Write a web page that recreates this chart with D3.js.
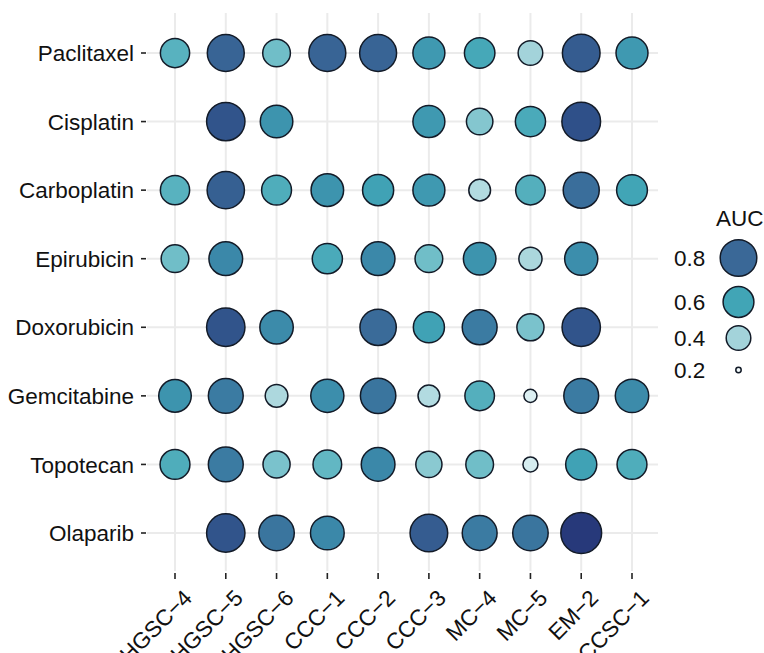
<!DOCTYPE html>
<html>
<head>
<meta charset="utf-8">
<script src="https://cdn.jsdelivr.net/npm/d3@7"></script>
<style>
  html, body { margin: 0; padding: 0; background: #ffffff; }
  svg { display: block; font-family: "Liberation Sans", Arial, sans-serif; }
</style>
</head>
<body>
<svg id="chart" width="764" height="653"></svg>
<script>
// ---------- DATA ----------
const cellLines = ["HGSC\u22124", "HGSC\u22125", "HGSC\u22126", "CCC\u22121", "CCC\u22122", "CCC\u22123", "MC\u22124", "MC\u22125", "EM\u22122", "CCSC\u22121"];
const drugs = ["Paclitaxel", "Cisplatin", "Carboplatin", "Epirubicin", "Doxorubicin", "Gemcitabine", "Topotecan", "Olaparib"];

// AUC per drug, in cellLines order (null = not tested)
const paclitaxel  = [0.55, 0.81, 0.50, 0.81, 0.81, 0.64, 0.59, 0.40, 0.83, 0.64];
const cisplatin   = [null, 0.85, 0.66, null, null, 0.64, 0.46, 0.58, 0.86, null];
const carboplatin = [0.55, 0.82, 0.57, 0.66, 0.61, 0.64, 0.37, 0.56, 0.78, 0.60];
const epirubicin  = [0.50, 0.70, null, 0.58, 0.70, 0.50, 0.66, 0.385, 0.68, null];
const doxorubicin = [null, 0.85, 0.69, null, 0.79, 0.61, 0.74, 0.48, 0.85, null];
const gemcitabine = [0.66, 0.74, 0.38, 0.68, 0.76, 0.37, 0.56, 0.28, 0.74, 0.69];
const topotecan   = [0.57, 0.74, 0.48, 0.53, 0.70, 0.45, 0.50, 0.30, 0.61, 0.57];
const olaparib    = [null, 0.85, 0.76, 0.70, null, 0.83, 0.74, 0.76, 0.92, null];

const legendBreaks = [0.8, 0.6, 0.4, 0.2];
const legendTitle = "AUC";

// ---------- BUILD TABLE ----------
const rowsByDrug = [paclitaxel, cisplatin, carboplatin, epirubicin, doxorubicin, gemcitabine, topotecan, olaparib];
const table = [];
drugs.forEach((drug, i) => {
  rowsByDrug[i].forEach((v, j) => {
    if (v != null) table.push({ drug, line: cellLines[j], auc: v });
  });
});

// ---------- SCALES ----------
const svg = d3.select("#chart");
const panel = { left: 147, right: 658, top: 13, bottom: 571 };
const fontSize = 22.5;

const x = d3.scalePoint().domain(cellLines).range([175, 632]);
const y = d3.scalePoint().domain(drugs).range([53, 533]);

const r = d3.scaleLinear()
  .domain([0.2, 0.4, 0.6, 0.8, 0.92])
  .range([2.7, 12.3, 15.4, 18.3, 20.4])
  .clamp(true);

const color = d3.scaleLinear()
  .domain([0.2, 0.3, 0.4, 0.5, 0.6, 0.7, 0.8, 0.86, 0.92])
  .range(["#f2f9fa", "#d6edf0", "#a3d3da", "#70bec8", "#41a5b6", "#3b88a9", "#3a6897", "#2f5089", "#27397a"])
  .clamp(true);

// ---------- GRID ----------
const grid = svg.append("g");
grid.selectAll("line.v").data(cellLines).join("line")
  .attr("x1", d => x(d)).attr("x2", d => x(d))
  .attr("y1", panel.top).attr("y2", panel.bottom)
  .attr("stroke", "#ebebeb").attr("stroke-width", 2);
grid.selectAll("line.h").data(drugs).join("line")
  .attr("x1", panel.left).attr("x2", panel.right)
  .attr("y1", d => y(d)).attr("y2", d => y(d))
  .attr("stroke", "#ebebeb").attr("stroke-width", 2);

// ---------- AXES ----------
const yAxis = svg.append("g");
yAxis.selectAll("line").data(drugs).join("line")
  .attr("x1", 141).attr("x2", 146)
  .attr("y1", d => y(d)).attr("y2", d => y(d))
  .attr("stroke", "#222").attr("stroke-width", 1.6);
yAxis.selectAll("text").data(drugs).join("text")
  .attr("x", 134).attr("y", d => y(d))
  .attr("dy", "0.36em")
  .attr("text-anchor", "end")
  .attr("font-size", fontSize)
  .attr("fill", "#111")
  .text(d => d);

const xAxis = svg.append("g");
xAxis.selectAll("line").data(cellLines).join("line")
  .attr("x1", d => x(d)).attr("x2", d => x(d))
  .attr("y1", 573).attr("y2", 579)
  .attr("stroke", "#222").attr("stroke-width", 1.6);
xAxis.selectAll("text").data(cellLines).join("text")
  .attr("transform", d => `translate(${x(d) + 7},${588}) rotate(-45)`)
  .attr("dy", "0.72em")
  .attr("text-anchor", "end")
  .attr("font-size", fontSize)
  .attr("fill", "#111")
  .text(d => d);

// ---------- BUBBLES ----------
svg.append("g").selectAll("circle").data(table).join("circle")
  .attr("cx", d => x(d.line))
  .attr("cy", d => y(d.drug))
  .attr("r", d => r(d.auc))
  .attr("fill", d => color(d.auc))
  .attr("stroke", "#131b28")
  .attr("stroke-width", 1.5);

// ---------- LEGEND ----------
const legend = svg.append("g");
legend.append("text")
  .attr("x", 716).attr("y", 226)
  .attr("font-size", fontSize).attr("fill", "#111")
  .text(legendTitle);

const legendPos = { 0.8: 258, 0.6: 302, 0.4: 338, 0.2: 370 };
legend.selectAll("circle").data(legendBreaks).join("circle")
  .attr("cx", 738.5)
  .attr("cy", d => legendPos[d])
  .attr("r", d => r(d))
  .attr("fill", d => color(d))
  .attr("stroke", "#131b28")
  .attr("stroke-width", 1.5);
legend.selectAll("text.lab").data(legendBreaks).join("text")
  .attr("class", "lab")
  .attr("x", 674)
  .attr("y", d => legendPos[d])
  .attr("dy", "0.36em")
  .attr("font-size", fontSize).attr("fill", "#111")
  .text(d => d.toFixed(1));
</script>
</body>
</html>
